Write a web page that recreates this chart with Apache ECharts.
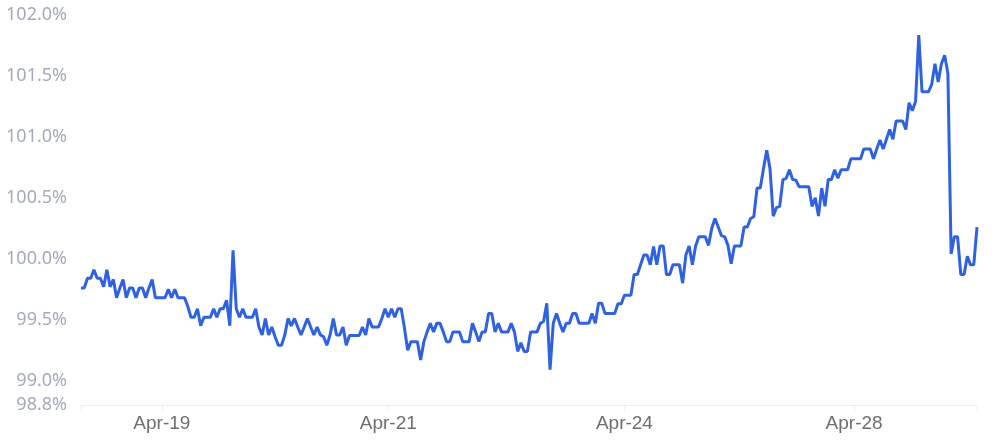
<!DOCTYPE html>
<html>
<head>
<meta charset="utf-8">
<script src="https://cdn.jsdelivr.net/npm/echarts@6/dist/echarts.min.js"></script>
<style>
html,body{margin:0;padding:0;background:#fff;}
#chart{width:997px;height:446px;}
</style>
</head>
<body>
<div id="chart"></div>
<script>
// Series values (percent), one per time step
const values = [
  99.76, 99.76, 99.84, 99.84, 99.91, 99.84, 99.84, 99.77, 99.91, 99.77,
  99.83, 99.68, 99.76, 99.83, 99.68, 99.76, 99.76, 99.68, 99.76, 99.76,
  99.68, 99.76, 99.83, 99.68, 99.68, 99.68, 99.68, 99.75, 99.68, 99.75,
  99.68, 99.68, 99.68, 99.61, 99.52, 99.52, 99.59, 99.45, 99.52, 99.52,
  99.52, 99.59, 99.52, 99.59, 99.59, 99.66, 99.45, 100.07, 99.59, 99.52,
  99.59, 99.52, 99.52, 99.52, 99.59, 99.44, 99.375, 99.51, 99.375, 99.44,
  99.36, 99.29, 99.29, 99.375, 99.51, 99.45, 99.51, 99.44, 99.375, 99.44,
  99.51, 99.44, 99.375, 99.44, 99.375, 99.36, 99.29, 99.375, 99.51, 99.375,
  99.375, 99.44, 99.29, 99.37, 99.37, 99.37, 99.37, 99.44, 99.375, 99.51,
  99.44, 99.44, 99.44, 99.51, 99.59, 99.52, 99.59, 99.52, 99.59, 99.59,
  99.43, 99.25, 99.32, 99.32, 99.32, 99.17, 99.32, 99.40, 99.47, 99.40,
  99.47, 99.47, 99.40, 99.32, 99.32, 99.40, 99.40, 99.40, 99.32, 99.32,
  99.32, 99.47, 99.40, 99.32, 99.40, 99.40, 99.55, 99.55, 99.40, 99.47,
  99.40, 99.40, 99.40, 99.47, 99.40, 99.24, 99.31, 99.24, 99.24, 99.40,
  99.40, 99.40, 99.47, 99.485, 99.635, 99.09, 99.47, 99.55, 99.47, 99.40,
  99.47, 99.47, 99.55, 99.55, 99.47, 99.47, 99.47, 99.47, 99.55, 99.47,
  99.635, 99.635, 99.55, 99.55, 99.55, 99.55, 99.63, 99.63, 99.70, 99.70,
  99.70, 99.87, 99.87, 99.95, 100.03, 100.03, 99.95, 100.10, 99.95, 100.105,
  100.105, 99.87, 99.87, 99.95, 99.95, 99.95, 99.80, 100.03, 100.105, 99.95,
  100.105, 100.18, 100.18, 100.18, 100.11, 100.25, 100.33, 100.26, 100.19, 100.18,
  100.11, 99.96, 100.105, 100.105, 100.105, 100.26, 100.26, 100.33, 100.345, 100.58,
  100.58, 100.74, 100.89, 100.74, 100.35, 100.42, 100.43, 100.65, 100.66, 100.73,
  100.65, 100.645, 100.59, 100.59, 100.59, 100.59, 100.43, 100.50, 100.35, 100.58,
  100.43, 100.65, 100.65, 100.73, 100.66, 100.73, 100.73, 100.73, 100.82, 100.82,
  100.82, 100.82, 100.90, 100.90, 100.90, 100.82, 100.90, 100.975, 100.90, 100.98,
  101.06, 100.98, 101.13, 101.13, 101.13, 101.06, 101.28, 101.215, 101.29, 101.836,
  101.37, 101.37, 101.37, 101.43, 101.60, 101.45, 101.60, 101.67, 101.52, 100.04,
  100.18, 100.18, 99.87, 99.87, 100.02, 99.95, 99.95, 100.26
];

// Date tick labels and the category positions where they appear
const tickLabels = ['Apr-19', 'Apr-21', 'Apr-24', 'Apr-28'];
const tickIndices = [25, 95, 168, 239];

// Category axis: one slot per observation, named by its step number
const categories = values.map((_, i) => String(i));

const labelAt = {};
tickIndices.forEach((idx, k) => { labelAt[idx] = tickLabels[k]; });

const chart = echarts.init(document.getElementById('chart'), null, {renderer: 'canvas'});
chart.setOption({
  animation: false,
  backgroundColor: '#ffffff',
  grid: {left: 81, right: 20, top: 15, bottom: 41, containLabel: false},
  xAxis: {
    type: 'category',
    data: categories,
    boundaryGap: false,
    axisLine: {show: true, lineStyle: {color: '#eceef1', width: 1}},
    axisTick: {
      show: true,
      length: 6,
      interval: (idx) => idx === 0 || idx === categories.length - 1 || labelAt[idx] !== undefined,
      lineStyle: {color: '#eceef1'}
    },
    axisLabel: {
      interval: (idx) => labelAt[idx] !== undefined,
      formatter: (val, idx) => labelAt[idx] || '',
      color: '#6e6e6e',
      fontFamily: 'Liberation Sans',
      fontSize: 19,
      margin: 9
    },
    splitLine: {show: false}
  },
  yAxis: {
    type: 'value',
    min: 98.8,
    max: 102.0,
    axisLine: {show: false},
    axisTick: {show: false},
    splitLine: {show: false},
    axisLabel: {
      formatter: (v) => v.toFixed(1) + '%',
      color: '#a4aab7',
      fontFamily: 'Noto Sans',
      fontSize: 18,
      margin: 14
    }
  },
  series: [{
    type: 'line',
    data: values,
    showSymbol: false,
    symbol: 'none',
    smooth: false,
    lineStyle: {color: '#2f62e0', width: 3},
    itemStyle: {color: '#2f62e0'}
  }]
});
</script>
</body>
</html>
